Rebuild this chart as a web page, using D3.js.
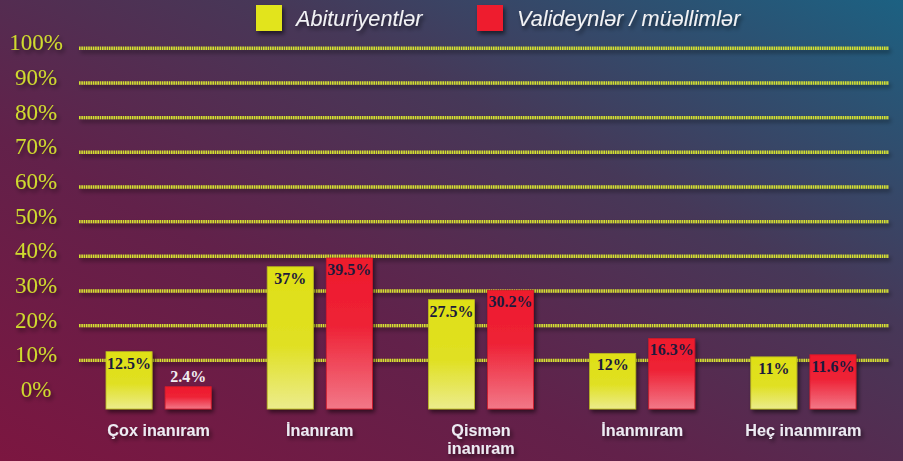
<!DOCTYPE html>
<html>
<head>
<meta charset="utf-8">
<script src="https://d3js.org/d3.v7.min.js"></script>
<style>
  body { margin: 0; background: #4a2c50; }
  svg { display: block; }
</style>
</head>
<body>
<div id="chart"></div>
<script>
// data
const categories = ["Çox inanıram", "İnanıram", "Qismən inanıram", "İnanmıram", "Heç inanmıram"];
const seriesNames = ["Abituriyentlər", "Valideynlər / müəllimlər"];
const abituriyentler = [12.5, 37, 27.5, 12, 11];
const valideynler = [2.4, 39.5, 30.2, 16.3, 11.6];
const yTicks = [0, 10, 20, 30, 40, 50, 60, 70, 80, 90, 100];

const W = 903, H = 461;
const baseY = 409;

const svg = d3.select("#chart").append("svg")
  .attr("width", W)
  .attr("height", H);

const defs = svg.append("defs");

// background gradient: maroon bottom-left to steel blue top-right
const bg = defs.append("linearGradient").attr("id", "bg")
  .attr("x1", 0).attr("y1", 1).attr("x2", 1).attr("y2", 0);
bg.append("stop").attr("offset", "0%").attr("stop-color", "#7c1640");
bg.append("stop").attr("offset", "35%").attr("stop-color", "#62214a");
bg.append("stop").attr("offset", "65%").attr("stop-color", "#463858");
bg.append("stop").attr("offset", "100%").attr("stop-color", "#1c6182");

const gy = defs.append("linearGradient").attr("id", "gy")
  .attr("x1", 0).attr("y1", 0).attr("x2", 0).attr("y2", 1);
gy.append("stop").attr("offset", "0%").attr("stop-color", "#dfe016");
gy.append("stop").attr("offset", "55%").attr("stop-color", "#e0e022");
gy.append("stop").attr("offset", "100%").attr("stop-color", "#ecec8c");

const gr = defs.append("linearGradient").attr("id", "gr")
  .attr("x1", 0).attr("y1", 0).attr("x2", 0).attr("y2", 1);
gr.append("stop").attr("offset", "0%").attr("stop-color", "#ee1a2c");
gr.append("stop").attr("offset", "45%").attr("stop-color", "#ee2236");
gr.append("stop").attr("offset", "100%").attr("stop-color", "#f27888");

const shadow = defs.append("filter").attr("id", "shadow")
  .attr("x", "-20%").attr("y", "-20%").attr("width", "150%").attr("height", "160%");
shadow.append("feDropShadow")
  .attr("dx", 2).attr("dy", 3).attr("stdDeviation", 2)
  .attr("flood-color", "#000").attr("flood-opacity", 0.55);

svg.append("rect").attr("width", W).attr("height", H).attr("fill", "url(#bg)");

// scales
const x = d3.scaleBand()
  .domain(categories)
  .range([78, 884]);

const xSub = d3.scaleBand()
  .domain(seriesNames)
  .range([28, x.bandwidth() - 28])
  .paddingInner(0.22);

const y = d3.scaleLinear()
  .domain([0, 100])
  .range([395, 48.3]);

const colors = { "Abituriyentlər": "url(#gy)", "Valideynlər / müəllimlər": "url(#gr)" };
const swatch = { "Abituriyentlər": "#e2e41a", "Valideynlər / müəllimlər": "#ee1c2e" };

// gridlines
svg.append("g")
  .attr("filter", "url(#shadow)")
  .selectAll("line")
  .data(yTicks.filter(d => d > 0))
  .join("line")
    .attr("x1", 79)
    .attr("x2", 889)
    .attr("y1", d => y(d))
    .attr("y2", d => y(d))
    .attr("stroke", "#d6e232")
    .attr("stroke-width", 3.4)
    .attr("stroke-dasharray", "1.6,0.7");

// y tick labels
svg.append("g")
  .selectAll("text")
  .data(yTicks)
  .join("text")
    .attr("x", 36)
    .attr("y", d => y(d) + 2)
    .attr("text-anchor", "middle")
    .attr("filter", "url(#shadow)")
    .style("font-family", "'Liberation Serif', 'DejaVu Serif', serif")
    .style("font-size", "23px")
    .style("fill", "#cfdb2e")
    .text(d => d + "%");

// bars
const rows = categories.map((c, i) => ({
  cat: c,
  vals: [
    { s: seriesNames[0], v: abituriyentler[i] },
    { s: seriesNames[1], v: valideynler[i] }
  ]
}));

const groups = svg.append("g")
  .selectAll("g")
  .data(rows)
  .join("g")
    .attr("transform", d => `translate(${x(d.cat)},0)`);

groups.selectAll("rect")
  .data(d => d.vals)
  .join("rect")
    .attr("x", d => xSub(d.s))
    .attr("y", d => y(d.v))
    .attr("width", xSub.bandwidth())
    .attr("height", d => baseY - y(d.v))
    .attr("fill", d => colors[d.s])
    .attr("stroke", d => d.s === seriesNames[0] ? "#b8b820" : "#d01a2a")
    .attr("stroke-width", 0.8)
    .attr("filter", "url(#shadow)");

// value labels
groups.selectAll("text.val")
  .data(d => d.vals)
  .join("text")
    .attr("class", "val")
    .attr("x", d => xSub(d.s) + xSub.bandwidth() / 2)
    .attr("y", d => (baseY - y(d.v)) < 24 ? y(d.v) - 5 : y(d.v) + 17)
    .attr("text-anchor", "middle")
    .style("font-family", "'Liberation Serif', 'DejaVu Serif', serif")
    .style("font-weight", "bold")
    .style("font-size", "16px")
    .style("fill", d => (baseY - y(d.v)) < 24 ? "#f2eef2" : "#1c1a3c")
    .text(d => d.v + "%");

// axes lines
svg.append("line")
  .attr("x1", 69).attr("x2", 69)
  .attr("y1", 27).attr("y2", baseY)
  .attr("stroke", "#f4f4f4")
  .attr("stroke-width", 3)
  .attr("filter", "url(#shadow)");

svg.append("line")
  .attr("x1", 14).attr("x2", W)
  .attr("y1", baseY + 1.5).attr("y2", baseY + 1.5)
  .attr("stroke", "#f6f6f6")
  .attr("stroke-width", 4)
  .attr("filter", "url(#shadow)");

// category labels
const catText = svg.append("g")
  .selectAll("text")
  .data(categories)
  .join("text")
    .attr("x", d => x(d) + x.bandwidth() / 2)
    .attr("y", 436)
    .attr("text-anchor", "middle")
    .attr("filter", "url(#shadow)")
    .style("font-family", "'Liberation Sans', Arial, sans-serif")
    .style("font-weight", "bold")
    .style("font-size", "16.2px")
    .style("fill", "#ecebf2");

catText.each(function(d) {
  const words = d === "Qismən inanıram" ? ["Qismən", "inanıram"] : [d];
  const t = d3.select(this);
  words.forEach((w, i) => {
    t.append("tspan")
      .attr("x", x(d) + x.bandwidth() / 2)
      .attr("dy", i === 0 ? 0 : 17.5)
      .text(w);
  });
});

// legend
const legendX = [256, 477];
const legend = svg.append("g")
  .selectAll("g")
  .data(seriesNames)
  .join("g")
    .attr("transform", (d, i) => `translate(${legendX[i]},5)`);

legend.append("rect")
  .attr("width", 26)
  .attr("height", 26)
  .attr("fill", d => swatch[d])
  .attr("filter", "url(#shadow)");

legend.append("text")
  .attr("x", 40)
  .attr("y", 21)
  .attr("filter", "url(#shadow)")
  .style("font-family", "'Liberation Sans', Arial, sans-serif")
  .style("font-style", "italic")
  .style("font-size", "21.7px")
  .style("fill", "#f2f2f4")
  .text(d => d);
</script>
</body>
</html>
